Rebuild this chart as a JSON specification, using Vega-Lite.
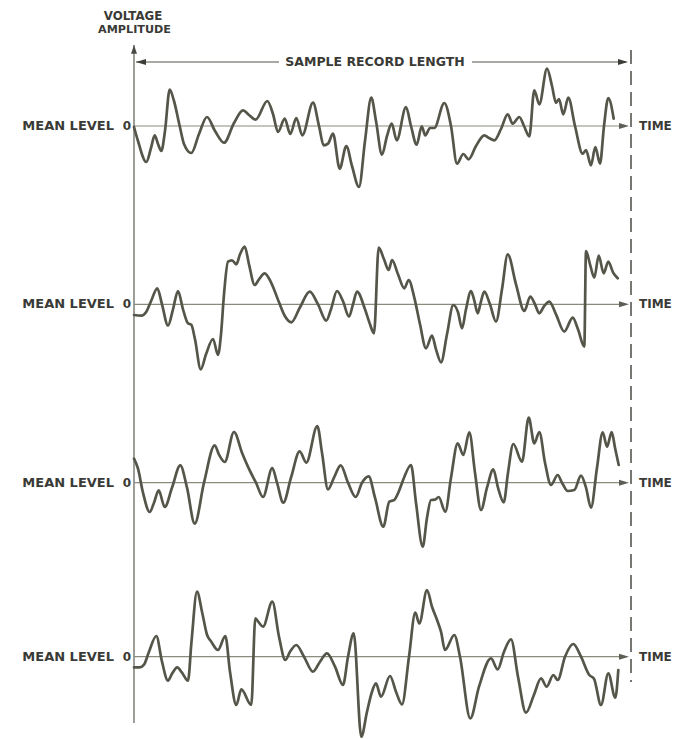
{
  "$schema": "https://vega.github.io/schema/vega-lite/v6.json",
  "width": 683,
  "height": 739,
  "autosize": {"type": "fit", "contains": "padding"},
  "padding": 0,
  "background": "#ffffff",
  "config": {"view": {"stroke": null}},
  "datasets": {
    "trace1": [
      {"t":0,"v":-1},{"t":4,"v":-15},{"t":12.3,"v":-36},{"t":17,"v":-22},{"t":20.7,"v":-9.3},{"t":24,"v":-18},{"t":27.3,"v":-25},{"t":31,"v":-5},{"t":35.7,"v":36.3},{"t":40,"v":25},{"t":45.7,"v":0},{"t":50,"v":-18},{"t":57.3,"v":-27},{"t":65,"v":-8},{"t":73,"v":9},{"t":81,"v":-5},{"t":90,"v":-16.7},{"t":100,"v":3},{"t":109,"v":15.7},{"t":115,"v":11},{"t":121.7,"v":6.3},{"t":133.3,"v":25},{"t":139,"v":12},{"t":144,"v":-6},{"t":150.7,"v":7.3},{"t":156.3,"v":-8},{"t":162.3,"v":8},{"t":168.3,"v":-9.3},{"t":179,"v":23.3},{"t":185,"v":0},{"t":189.7,"v":-19.3},{"t":194,"v":-17.7},{"t":199,"v":-7.7},{"t":205.7,"v":-42.7},{"t":212.3,"v":-20},{"t":218,"v":-40},{"t":225,"v":-61},{"t":231,"v":-15},{"t":237.3,"v":28.3},{"t":242,"v":5},{"t":248,"v":-28.7},{"t":253,"v":-10},{"t":257.7,"v":2.3},{"t":262.7,"v":-14.3},{"t":272,"v":19},{"t":277,"v":0},{"t":282.7,"v":-18.7},{"t":287.7,"v":-0.3},{"t":291.3,"v":-9.3},{"t":296,"v":-2},{"t":300.3,"v":-2},{"t":310.3,"v":23},{"t":317,"v":0},{"t":323,"v":-37.7},{"t":329.3,"v":-28},{"t":334.7,"v":-33.3},{"t":342,"v":-20},{"t":350.3,"v":-9.3},{"t":355,"v":-12},{"t":360.3,"v":-14.3},{"t":367,"v":-3},{"t":373.7,"v":11.7},{"t":378.7,"v":2.3},{"t":385.3,"v":9},{"t":390,"v":0},{"t":395.3,"v":-10.3},{"t":400.3,"v":35.7},{"t":405.3,"v":21.7},{"t":413,"v":57.3},{"t":418,"v":40},{"t":422,"v":23.3},{"t":425,"v":27},{"t":429.3,"v":11.7},{"t":434.3,"v":28.3},{"t":441,"v":0},{"t":448.7,"v":-27.7},{"t":452,"v":-24},{"t":457,"v":-39.3},{"t":461.3,"v":-21},{"t":466,"v":-37.7},{"t":470,"v":0},{"t":474.3,"v":28},{"t":479.7,"v":7.3}
    ],
    "trace2": [
      {"t":0,"v":-10.7},{"t":7.3,"v":-11.3},{"t":12,"v":-8},{"t":17,"v":3},{"t":23.3,"v":16},{"t":28,"v":0},{"t":34,"v":-21.3},{"t":39,"v":-5},{"t":44,"v":13.3},{"t":49,"v":-5},{"t":54,"v":-19},{"t":57.3,"v":-20.5},{"t":61,"v":-35},{"t":66.7,"v":-65},{"t":72,"v":-50},{"t":79,"v":-34.7},{"t":84,"v":-50.7},{"t":87,"v":-30},{"t":90,"v":10},{"t":94,"v":42.7},{"t":98,"v":44},{"t":102.3,"v":40},{"t":106,"v":50},{"t":110.7,"v":57.7},{"t":115,"v":40},{"t":120.7,"v":19.3},{"t":125,"v":25},{"t":130.7,"v":31},{"t":137,"v":22},{"t":145,"v":2},{"t":151,"v":-12},{"t":157.3,"v":-18},{"t":166,"v":-3},{"t":175.7,"v":12.7},{"t":184,"v":0},{"t":192.3,"v":-16.3},{"t":197,"v":-5},{"t":203,"v":13.3},{"t":209,"v":3},{"t":215,"v":-12.3},{"t":219,"v":0},{"t":223,"v":12.7},{"t":231,"v":-5},{"t":236,"v":-20},{"t":240,"v":-29},{"t":244.7,"v":56.7},{"t":250,"v":45},{"t":254.7,"v":34.3},{"t":258,"v":44.3},{"t":264,"v":30},{"t":270.3,"v":16},{"t":274.7,"v":24.3},{"t":280,"v":8},{"t":286,"v":-20},{"t":292,"v":-44},{"t":298,"v":-31.3},{"t":302,"v":-45},{"t":307,"v":-58},{"t":313,"v":-30},{"t":319.3,"v":-0.7},{"t":324,"v":-8},{"t":328,"v":-24},{"t":332,"v":-5},{"t":337,"v":13.3},{"t":340,"v":5},{"t":343.7,"v":-9},{"t":347,"v":3},{"t":350.3,"v":12.7},{"t":356,"v":0},{"t":362,"v":-17.3},{"t":368,"v":15},{"t":373.7,"v":50},{"t":382,"v":20},{"t":390.3,"v":-6.7},{"t":396.3,"v":7.7},{"t":401,"v":0},{"t":405.3,"v":-9},{"t":410,"v":-2},{"t":415.3,"v":2.7},{"t":422,"v":-10},{"t":430.3,"v":-27.3},{"t":438.7,"v":-13.3},{"t":444,"v":-25},{"t":450.3,"v":-42.3},{"t":452,"v":53.3},{"t":456,"v":40},{"t":460.3,"v":26.7},{"t":464.7,"v":48.7},{"t":469.7,"v":31},{"t":474.3,"v":42.7},{"t":479,"v":32},{"t":483.7,"v":26}
    ],
    "trace3": [
      {"t":0,"v":24},{"t":4,"v":14},{"t":9,"v":-10},{"t":15.7,"v":-29.3},{"t":20,"v":-20},{"t":24.7,"v":-7.7},{"t":30.7,"v":-24.3},{"t":38,"v":-5},{"t":46.3,"v":17.3},{"t":53,"v":-5},{"t":60.7,"v":-41},{"t":70,"v":0},{"t":80.7,"v":37.3},{"t":85,"v":28},{"t":90.7,"v":20.7},{"t":100,"v":50.7},{"t":108,"v":30},{"t":115.7,"v":12.3},{"t":122,"v":0},{"t":129,"v":-14.3},{"t":138.3,"v":14.7},{"t":143,"v":0},{"t":149.3,"v":-20},{"t":157,"v":5},{"t":165.7,"v":31.3},{"t":172.3,"v":20},{"t":183.3,"v":56.7},{"t":188,"v":30},{"t":194,"v":-6.7},{"t":200,"v":5},{"t":206.7,"v":17.3},{"t":214,"v":0},{"t":221.7,"v":-14.3},{"t":228,"v":0},{"t":234.7,"v":6.3},{"t":241,"v":-15},{"t":249.3,"v":-44},{"t":255.3,"v":-19},{"t":260,"v":-17.5},{"t":264.7,"v":-9},{"t":270,"v":5},{"t":277,"v":17.7},{"t":282,"v":-20},{"t":288.7,"v":-64},{"t":293,"v":-35},{"t":297,"v":-17.3},{"t":301,"v":-17},{"t":304.7,"v":-14.3},{"t":311.3,"v":-29},{"t":317,"v":5},{"t":323.7,"v":39.3},{"t":329.3,"v":27.7},{"t":335.3,"v":50.3},{"t":341,"v":10},{"t":347,"v":-27.3},{"t":353,"v":-5},{"t":359.3,"v":13.3},{"t":364,"v":-5},{"t":369.7,"v":-19.7},{"t":374,"v":10},{"t":379.3,"v":38.7},{"t":388,"v":21},{"t":394.7,"v":65},{"t":400.3,"v":39.3},{"t":405.3,"v":50.7},{"t":411,"v":20},{"t":417,"v":-2.3},{"t":423.7,"v":7.7},{"t":428,"v":0},{"t":433.7,"v":-8.3},{"t":440.3,"v":-7.3},{"t":447,"v":7},{"t":452,"v":-5},{"t":457,"v":-25},{"t":463,"v":15},{"t":468.7,"v":50.3},{"t":473,"v":36},{"t":477.7,"v":50.7},{"t":481,"v":35},{"t":484.7,"v":17.7}
    ],
    "trace4": [
      {"t":0,"v":-10.7},{"t":5.7,"v":-10.7},{"t":10,"v":-8},{"t":15,"v":5},{"t":22.3,"v":20.7},{"t":28,"v":-5},{"t":34,"v":-24},{"t":38,"v":-17},{"t":43.3,"v":-10.7},{"t":48,"v":-16},{"t":54,"v":-24},{"t":57.5,"v":15},{"t":63,"v":65},{"t":68,"v":45},{"t":73,"v":22},{"t":77.3,"v":15},{"t":84,"v":6.7},{"t":91.3,"v":20.7},{"t":96,"v":-15},{"t":102.3,"v":-48.3},{"t":107.3,"v":-32.7},{"t":117.3,"v":-48.3},{"t":121.3,"v":38.3},{"t":125,"v":34},{"t":129,"v":30},{"t":138.3,"v":55},{"t":145,"v":20},{"t":151.3,"v":-3.3},{"t":156,"v":5},{"t":162.3,"v":11.7},{"t":170,"v":0},{"t":179,"v":-15},{"t":186,"v":-5},{"t":193,"v":3.3},{"t":201,"v":-10},{"t":209,"v":-28.3},{"t":214,"v":0},{"t":219.7,"v":23.3},{"t":227.3,"v":-80},{"t":233,"v":-55},{"t":238,"v":-35},{"t":242,"v":-26.7},{"t":247,"v":-40},{"t":256,"v":-19.3},{"t":262,"v":-35},{"t":268,"v":-47.7},{"t":275,"v":0},{"t":281.3,"v":44},{"t":285.3,"v":33.3},{"t":293,"v":66.7},{"t":298,"v":50},{"t":303.7,"v":35},{"t":307,"v":25},{"t":311,"v":6.7},{"t":320.3,"v":21.7},{"t":326,"v":0},{"t":336.3,"v":-61.7},{"t":345,"v":-30},{"t":357,"v":-1.7},{"t":363.7,"v":-12.7},{"t":370,"v":5},{"t":377,"v":17.3},{"t":384,"v":-20},{"t":392,"v":-56},{"t":400,"v":-38},{"t":407,"v":-21.7},{"t":412.7,"v":-30},{"t":419.3,"v":-18.3},{"t":423.7,"v":-23.3},{"t":431,"v":0},{"t":439.3,"v":12.7},{"t":447,"v":0},{"t":455.3,"v":-18.3},{"t":460,"v":-22},{"t":467,"v":-48.3},{"t":474.3,"v":-16.7},{"t":481.3,"v":-41},{"t":484.3,"v":-13.3}
    ]
  },
  "resolve": {"scale": {"y": "independent"}},
  "layer": [
    {
      "layer": [
        {"data": {"values": [{}]}, "mark": {"type": "rule", "color": "#6b6b63", "strokeWidth": 1.3},
         "encoding": {"x": {"datum": 0, "type": "quantitative", "scale": {"domain": [-134, 549], "nice": false, "zero": false}, "axis": null},
                      "y": {"datum": 81, "type": "quantitative", "scale": {"domain": [-613, 126], "nice": false, "zero": false}, "axis": null},
                      "y2": {"datum": -597}}},
        {"data": {"values": [{}]}, "mark": {"type": "point", "shape": "M0,0L-0.75,2.2L0.75,2.2Z", "size": 64, "filled": true, "color": "#4a4a44", "opacity": 1},
         "encoding": {"x": {"datum": 0, "type": "quantitative", "scale": {"domain": [-134, 549], "nice": false, "zero": false}, "axis": null},
                      "y": {"datum": 81, "type": "quantitative", "scale": {"domain": [-613, 126], "nice": false, "zero": false}, "axis": null}}},
        {"data": {"values": [{}]}, "mark": {"type": "rule", "color": "#55554f", "strokeWidth": 1.1},
         "encoding": {"x": {"datum": 2, "type": "quantitative", "scale": {"domain": [-134, 549], "nice": false, "zero": false}, "axis": null},
                      "x2": {"datum": 145},
                      "y": {"datum": 64, "type": "quantitative", "scale": {"domain": [-613, 126], "nice": false, "zero": false}, "axis": null}}},
        {"data": {"values": [{}]}, "mark": {"type": "rule", "color": "#55554f", "strokeWidth": 1.1},
         "encoding": {"x": {"datum": 338, "type": "quantitative", "scale": {"domain": [-134, 549], "nice": false, "zero": false}, "axis": null},
                      "x2": {"datum": 492},
                      "y": {"datum": 64, "type": "quantitative", "scale": {"domain": [-613, 126], "nice": false, "zero": false}, "axis": null}}},
        {"data": {"values": [{}]}, "mark": {"type": "point", "shape": "M0,0L2.5,-0.75L2.5,0.75Z", "size": 64, "filled": true, "color": "#3c3c38", "opacity": 1},
         "encoding": {"x": {"datum": 2, "type": "quantitative", "scale": {"domain": [-134, 549], "nice": false, "zero": false}, "axis": null},
                      "y": {"datum": 64, "type": "quantitative", "scale": {"domain": [-613, 126], "nice": false, "zero": false}, "axis": null}}},
        {"data": {"values": [{}]}, "mark": {"type": "point", "shape": "M0,0L-2.5,-0.75L-2.5,0.75Z", "size": 64, "filled": true, "color": "#3c3c38", "opacity": 1},
         "encoding": {"x": {"datum": 494, "type": "quantitative", "scale": {"domain": [-134, 549], "nice": false, "zero": false}, "axis": null},
                      "y": {"datum": 64, "type": "quantitative", "scale": {"domain": [-613, 126], "nice": false, "zero": false}, "axis": null}}},
        {"data": {"values": [{}]}, "mark": {"type": "rule", "color": "#4a4a44", "strokeWidth": 1.5, "strokeDash": [14, 7]},
         "encoding": {"x": {"datum": 497, "type": "quantitative", "scale": {"domain": [-134, 549], "nice": false, "zero": false}, "axis": null},
                      "y": {"datum": 76, "type": "quantitative", "scale": {"domain": [-613, 126], "nice": false, "zero": false}, "axis": null},
                      "y2": {"datum": -556}}},
        {"data": {"values": [{}]}, "mark": {"type": "text", "font": "DejaVu Sans", "fontWeight": "bold", "fontSize": 11.8, "align": "center", "baseline": "alphabetic", "color": "#3a3a36"},
         "encoding": {"x": {"datum": -1, "type": "quantitative", "scale": {"domain": [-134, 549], "nice": false, "zero": false}, "axis": null},
                      "y": {"datum": 106, "type": "quantitative", "scale": {"domain": [-613, 126], "nice": false, "zero": false}, "axis": null},
                      "text": {"value": "VOLTAGE"}}},
        {"data": {"values": [{}]}, "mark": {"type": "text", "font": "DejaVu Sans", "fontWeight": "bold", "fontSize": 11.2, "align": "center", "baseline": "alphabetic", "color": "#3a3a36"},
         "encoding": {"x": {"datum": 0.5, "type": "quantitative", "scale": {"domain": [-134, 549], "nice": false, "zero": false}, "axis": null},
                      "y": {"datum": 93, "type": "quantitative", "scale": {"domain": [-613, 126], "nice": false, "zero": false}, "axis": null},
                      "text": {"value": "AMPLITUDE"}}},
        {"data": {"values": [{}]}, "mark": {"type": "text", "font": "DejaVu Sans", "fontWeight": "bold", "fontSize": 12.5, "align": "center", "baseline": "alphabetic", "color": "#3a3a36"},
         "encoding": {"x": {"datum": 241, "type": "quantitative", "scale": {"domain": [-134, 549], "nice": false, "zero": false}, "axis": null},
                      "y": {"datum": 60, "type": "quantitative", "scale": {"domain": [-613, 126], "nice": false, "zero": false}, "axis": null},
                      "text": {"value": "SAMPLE RECORD LENGTH"}}},
        {"data": {"values": [{}]}, "mark": {"type": "rule", "color": "#8b8b7d", "strokeWidth": 1.2},
         "encoding": {"x": {"datum": 0, "type": "quantitative", "scale": {"domain": [-134, 549], "nice": false, "zero": false}, "axis": null},
                      "x2": {"datum": 492},
                      "y": {"datum": 0, "type": "quantitative", "scale": {"domain": [-613, 126], "nice": false, "zero": false}, "axis": null}}},
        {"data": {"values": [{}]}, "mark": {"type": "point", "shape": "M0,0L-2.5,-0.75L-2.5,0.75Z", "size": 64, "filled": true, "color": "#5e5e56", "opacity": 1},
         "encoding": {"x": {"datum": 495, "type": "quantitative", "scale": {"domain": [-134, 549], "nice": false, "zero": false}, "axis": null},
                      "y": {"datum": 0, "type": "quantitative", "scale": {"domain": [-613, 126], "nice": false, "zero": false}, "axis": null}}},
        {"data": {"name": "trace1"}, "mark": {"type": "line", "interpolate": "monotone", "color": "#55554a", "strokeWidth": 2.7, "strokeCap": "round", "strokeJoin": "round"},
         "encoding": {"x": {"field": "t", "type": "quantitative", "title": "Time", "scale": {"domain": [-134, 549], "nice": false, "zero": false}, "axis": null},
                      "y": {"field": "v", "type": "quantitative", "title": "Voltage amplitude", "scale": {"domain": [-613, 126], "nice": false, "zero": false}, "axis": null}}},
        {"data": {"values": [{}]}, "mark": {"type": "text", "font": "DejaVu Sans", "fontWeight": "bold", "fontSize": 13, "align": "right", "baseline": "alphabetic", "color": "#3a3a36"},
         "encoding": {"x": {"datum": -20, "type": "quantitative", "scale": {"domain": [-134, 549], "nice": false, "zero": false}, "axis": null},
                      "y": {"datum": -4, "type": "quantitative", "scale": {"domain": [-613, 126], "nice": false, "zero": false}, "axis": null},
                      "text": {"value": "MEAN LEVEL"}}},
        {"data": {"values": [{}]}, "mark": {"type": "text", "font": "DejaVu Sans", "fontWeight": "bold", "fontSize": 12, "align": "right", "baseline": "alphabetic", "color": "#3a3a36"},
         "encoding": {"x": {"datum": -3, "type": "quantitative", "scale": {"domain": [-134, 549], "nice": false, "zero": false}, "axis": null},
                      "y": {"datum": -4, "type": "quantitative", "scale": {"domain": [-613, 126], "nice": false, "zero": false}, "axis": null},
                      "text": {"value": "0"}}},
        {"data": {"values": [{}]}, "mark": {"type": "text", "font": "DejaVu Sans", "fontWeight": "bold", "fontSize": 12, "align": "left", "baseline": "alphabetic", "color": "#3a3a36"},
         "encoding": {"x": {"datum": 505, "type": "quantitative", "scale": {"domain": [-134, 549], "nice": false, "zero": false}, "axis": null},
                      "y": {"datum": -4, "type": "quantitative", "scale": {"domain": [-613, 126], "nice": false, "zero": false}, "axis": null},
                      "text": {"value": "TIME"}}}
      ]
    },
    {
      "layer": [
        {"data": {"values": [{}]}, "mark": {"type": "rule", "color": "#8b8b7d", "strokeWidth": 1.2},
         "encoding": {"x": {"datum": 0, "type": "quantitative", "scale": {"domain": [-134, 549], "nice": false, "zero": false}, "axis": null},
                      "x2": {"datum": 492},
                      "y": {"datum": 0, "type": "quantitative", "scale": {"domain": [-434.7, 304.3], "nice": false, "zero": false}, "axis": null}}},
        {"data": {"values": [{}]}, "mark": {"type": "point", "shape": "M0,0L-2.5,-0.75L-2.5,0.75Z", "size": 64, "filled": true, "color": "#5e5e56", "opacity": 1},
         "encoding": {"x": {"datum": 495, "type": "quantitative", "scale": {"domain": [-134, 549], "nice": false, "zero": false}, "axis": null},
                      "y": {"datum": 0, "type": "quantitative", "scale": {"domain": [-434.7, 304.3], "nice": false, "zero": false}, "axis": null}}},
        {"data": {"name": "trace2"}, "mark": {"type": "line", "interpolate": "monotone", "color": "#55554a", "strokeWidth": 2.7, "strokeCap": "round", "strokeJoin": "round"},
         "encoding": {"x": {"field": "t", "type": "quantitative", "title": "Time", "scale": {"domain": [-134, 549], "nice": false, "zero": false}, "axis": null},
                      "y": {"field": "v", "type": "quantitative", "title": "Voltage amplitude", "scale": {"domain": [-434.7, 304.3], "nice": false, "zero": false}, "axis": null}}},
        {"data": {"values": [{}]}, "mark": {"type": "text", "font": "DejaVu Sans", "fontWeight": "bold", "fontSize": 13, "align": "right", "baseline": "alphabetic", "color": "#3a3a36"},
         "encoding": {"x": {"datum": -20, "type": "quantitative", "scale": {"domain": [-134, 549], "nice": false, "zero": false}, "axis": null},
                      "y": {"datum": -4, "type": "quantitative", "scale": {"domain": [-434.7, 304.3], "nice": false, "zero": false}, "axis": null},
                      "text": {"value": "MEAN LEVEL"}}},
        {"data": {"values": [{}]}, "mark": {"type": "text", "font": "DejaVu Sans", "fontWeight": "bold", "fontSize": 12, "align": "right", "baseline": "alphabetic", "color": "#3a3a36"},
         "encoding": {"x": {"datum": -3, "type": "quantitative", "scale": {"domain": [-134, 549], "nice": false, "zero": false}, "axis": null},
                      "y": {"datum": -4, "type": "quantitative", "scale": {"domain": [-434.7, 304.3], "nice": false, "zero": false}, "axis": null},
                      "text": {"value": "0"}}},
        {"data": {"values": [{}]}, "mark": {"type": "text", "font": "DejaVu Sans", "fontWeight": "bold", "fontSize": 12, "align": "left", "baseline": "alphabetic", "color": "#3a3a36"},
         "encoding": {"x": {"datum": 505, "type": "quantitative", "scale": {"domain": [-134, 549], "nice": false, "zero": false}, "axis": null},
                      "y": {"datum": -4, "type": "quantitative", "scale": {"domain": [-434.7, 304.3], "nice": false, "zero": false}, "axis": null},
                      "text": {"value": "TIME"}}}
      ]
    },
    {
      "layer": [
        {"data": {"values": [{}]}, "mark": {"type": "rule", "color": "#8b8b7d", "strokeWidth": 1.2},
         "encoding": {"x": {"datum": 0, "type": "quantitative", "scale": {"domain": [-134, 549], "nice": false, "zero": false}, "axis": null},
                      "x2": {"datum": 492},
                      "y": {"datum": 0, "type": "quantitative", "scale": {"domain": [-256.3, 482.7], "nice": false, "zero": false}, "axis": null}}},
        {"data": {"values": [{}]}, "mark": {"type": "point", "shape": "M0,0L-2.5,-0.75L-2.5,0.75Z", "size": 64, "filled": true, "color": "#5e5e56", "opacity": 1},
         "encoding": {"x": {"datum": 495, "type": "quantitative", "scale": {"domain": [-134, 549], "nice": false, "zero": false}, "axis": null},
                      "y": {"datum": 0, "type": "quantitative", "scale": {"domain": [-256.3, 482.7], "nice": false, "zero": false}, "axis": null}}},
        {"data": {"name": "trace3"}, "mark": {"type": "line", "interpolate": "monotone", "color": "#55554a", "strokeWidth": 2.7, "strokeCap": "round", "strokeJoin": "round"},
         "encoding": {"x": {"field": "t", "type": "quantitative", "title": "Time", "scale": {"domain": [-134, 549], "nice": false, "zero": false}, "axis": null},
                      "y": {"field": "v", "type": "quantitative", "title": "Voltage amplitude", "scale": {"domain": [-256.3, 482.7], "nice": false, "zero": false}, "axis": null}}},
        {"data": {"values": [{}]}, "mark": {"type": "text", "font": "DejaVu Sans", "fontWeight": "bold", "fontSize": 13, "align": "right", "baseline": "alphabetic", "color": "#3a3a36"},
         "encoding": {"x": {"datum": -20, "type": "quantitative", "scale": {"domain": [-134, 549], "nice": false, "zero": false}, "axis": null},
                      "y": {"datum": -4, "type": "quantitative", "scale": {"domain": [-256.3, 482.7], "nice": false, "zero": false}, "axis": null},
                      "text": {"value": "MEAN LEVEL"}}},
        {"data": {"values": [{}]}, "mark": {"type": "text", "font": "DejaVu Sans", "fontWeight": "bold", "fontSize": 12, "align": "right", "baseline": "alphabetic", "color": "#3a3a36"},
         "encoding": {"x": {"datum": -3, "type": "quantitative", "scale": {"domain": [-134, 549], "nice": false, "zero": false}, "axis": null},
                      "y": {"datum": -4, "type": "quantitative", "scale": {"domain": [-256.3, 482.7], "nice": false, "zero": false}, "axis": null},
                      "text": {"value": "0"}}},
        {"data": {"values": [{}]}, "mark": {"type": "text", "font": "DejaVu Sans", "fontWeight": "bold", "fontSize": 12, "align": "left", "baseline": "alphabetic", "color": "#3a3a36"},
         "encoding": {"x": {"datum": 505, "type": "quantitative", "scale": {"domain": [-134, 549], "nice": false, "zero": false}, "axis": null},
                      "y": {"datum": -4, "type": "quantitative", "scale": {"domain": [-256.3, 482.7], "nice": false, "zero": false}, "axis": null},
                      "text": {"value": "TIME"}}}
      ]
    },
    {
      "layer": [
        {"data": {"values": [{}]}, "mark": {"type": "rule", "color": "#8b8b7d", "strokeWidth": 1.2},
         "encoding": {"x": {"datum": 0, "type": "quantitative", "scale": {"domain": [-134, 549], "nice": false, "zero": false}, "axis": null},
                      "x2": {"datum": 492},
                      "y": {"datum": 0, "type": "quantitative", "scale": {"domain": [-82.3, 656.7], "nice": false, "zero": false}, "axis": null}}},
        {"data": {"values": [{}]}, "mark": {"type": "point", "shape": "M0,0L-2.5,-0.75L-2.5,0.75Z", "size": 64, "filled": true, "color": "#5e5e56", "opacity": 1},
         "encoding": {"x": {"datum": 495, "type": "quantitative", "scale": {"domain": [-134, 549], "nice": false, "zero": false}, "axis": null},
                      "y": {"datum": 0, "type": "quantitative", "scale": {"domain": [-82.3, 656.7], "nice": false, "zero": false}, "axis": null}}},
        {"data": {"name": "trace4"}, "mark": {"type": "line", "interpolate": "monotone", "color": "#55554a", "strokeWidth": 2.7, "strokeCap": "round", "strokeJoin": "round"},
         "encoding": {"x": {"field": "t", "type": "quantitative", "title": "Time", "scale": {"domain": [-134, 549], "nice": false, "zero": false}, "axis": null},
                      "y": {"field": "v", "type": "quantitative", "title": "Voltage amplitude", "scale": {"domain": [-82.3, 656.7], "nice": false, "zero": false}, "axis": null}}},
        {"data": {"values": [{}]}, "mark": {"type": "text", "font": "DejaVu Sans", "fontWeight": "bold", "fontSize": 13, "align": "right", "baseline": "alphabetic", "color": "#3a3a36"},
         "encoding": {"x": {"datum": -20, "type": "quantitative", "scale": {"domain": [-134, 549], "nice": false, "zero": false}, "axis": null},
                      "y": {"datum": -4, "type": "quantitative", "scale": {"domain": [-82.3, 656.7], "nice": false, "zero": false}, "axis": null},
                      "text": {"value": "MEAN LEVEL"}}},
        {"data": {"values": [{}]}, "mark": {"type": "text", "font": "DejaVu Sans", "fontWeight": "bold", "fontSize": 12, "align": "right", "baseline": "alphabetic", "color": "#3a3a36"},
         "encoding": {"x": {"datum": -3, "type": "quantitative", "scale": {"domain": [-134, 549], "nice": false, "zero": false}, "axis": null},
                      "y": {"datum": -4, "type": "quantitative", "scale": {"domain": [-82.3, 656.7], "nice": false, "zero": false}, "axis": null},
                      "text": {"value": "0"}}},
        {"data": {"values": [{}]}, "mark": {"type": "text", "font": "DejaVu Sans", "fontWeight": "bold", "fontSize": 12, "align": "left", "baseline": "alphabetic", "color": "#3a3a36"},
         "encoding": {"x": {"datum": 505, "type": "quantitative", "scale": {"domain": [-134, 549], "nice": false, "zero": false}, "axis": null},
                      "y": {"datum": -4, "type": "quantitative", "scale": {"domain": [-82.3, 656.7], "nice": false, "zero": false}, "axis": null},
                      "text": {"value": "TIME"}}}
      ]
    }
  ]
}
